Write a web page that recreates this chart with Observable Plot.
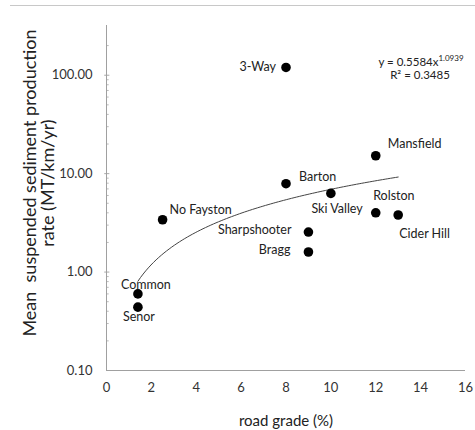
<!DOCTYPE html>
<html>
<head>
<meta charset="utf-8">
<script src="https://cdn.jsdelivr.net/npm/d3@7"></script>
<script src="https://cdn.jsdelivr.net/npm/@observablehq/plot@0.6"></script>
<style>
  html, body { margin: 0; padding: 0; background: #fff; }
  #wrap { position: relative; width: 475px; height: 430px; }
  #topline { position: absolute; left: 10px; right: 0; top: 5px; height: 0; border-top: 1px solid #c8c8c8; }
  svg { font-family: Lato, "Open Sans", sans-serif; }
</style>
</head>
<body>
<div id="wrap"><div id="topline"></div></div>
<script>
const sites = ["3-Way", "Mansfield", "Barton", "", "Ski Valley", "Rolston", "No Fayston", "Sharpshooter", "Bragg", "Common", "Senor"];
const grade = [8, 12, 8, 10, 12, 13, 2.5, 9, 9, 1.4, 1.4];
const rate  = [120, 15.2, 7.9, 6.3, 4.0, 3.8, 3.4, 2.55, 1.6, 0.60, 0.44];
const extraLabels = ["Cider Hill"];
const yTicks = [0.1, 1, 10, 100];
const yTickLabels = ["0.10", "1.00", "10.00", "100.00"];
const xTicks = [0, 2, 4, 6, 8, 10, 12, 14, 16];
const fitA = 0.5584, fitB = 1.0939, fitR2 = 0.3485;
const fitRange = [1.4, 13];
const yTitle = ["Mean  suspended sediment production", "rate (MT/km/yr)"];
const xTitle = "road grade (%)";

const pts = sites.map((s, i) => ({name: s, x: grade[i], y: rate[i]}));
const fit = d3.range(0, 101).map(i => {
  const x = fitRange[0] + (fitRange[1] - fitRange[0]) * i / 100;
  return {x, y: fitA * Math.pow(x, fitB)};
});

// label placement (style, in code)
const place = {
  "3-Way":        {dx: -10, dy: 0,  anchor: "end"},
  "Mansfield":    {dx: 12,  dy: -12, anchor: "start"},
  "Barton":       {dx: 13,  dy: -7, anchor: "start"},
  "Ski Valley":   {dx: -13, dy: -4, anchor: "end"},
  "Rolston":      {dx: -25, dy: -19, anchor: "start"},
  "No Fayston":   {dx: 7,   dy: -10, anchor: "start"},
  "Sharpshooter": {dx: -17, dy: -2, anchor: "end"},
  "Bragg":        {dx: -18, dy: -2, anchor: "end"},
  "Common":       {dx: -17, dy: -9, anchor: "start"},
  "Senor":        {dx: -15, dy: 10, anchor: "start"}
};
const cider = {name: extraLabels[0], x: grade[5], y: rate[5]};

const minor = [];
for (let d = 0.1; d < 300; d *= 10) for (let k = 2; k <= 9; k++) if (d * k < 300) minor.push(d * k);

const labelMarks = pts.filter(p => place[p.name]).map(p => {
  const o = place[p.name];
  return Plot.text([p], {x: "x", y: "y", text: "name", dx: o.dx, dy: o.dy, textAnchor: o.anchor, fontSize: 12.5, fill: "#222"});
});

const chart = Plot.plot({
  width: 475,
  height: 430,
  marginLeft: 106,
  marginRight: 10,
  marginTop: 25,
  marginBottom: 60,
  style: {fontFamily: "Lato, 'Open Sans', sans-serif", background: "transparent"},
  x: {domain: [0, 16], label: null},
  y: {type: "log", domain: [0.1, 320], label: null},
  marks: [
    Plot.axisX({ticks: xTicks, tickSize: 0, tickPadding: 12, fontSize: 13, fill: "#333", label: null}),
    Plot.axisY({ticks: yTicks, tickFormat: d => yTickLabels[yTicks.indexOf(d)], tickSize: 0, tickPadding: 14, fontSize: 13, fill: "#333", label: null}),
    Plot.ruleY(minor, {x1: 0, x2: 0.12, stroke: "#bbb", strokeWidth: 1}),
    Plot.ruleY(yTicks.slice(1), {x1: -0.08, x2: 0.15, stroke: "#aaa", strokeWidth: 1}),
    Plot.ruleX([0], {stroke: "#a0a0a0", strokeWidth: 1}),
    Plot.ruleY([0.1], {stroke: "#a0a0a0", strokeWidth: 1}),
    Plot.line(fit, {x: "x", y: "y", stroke: "#444", strokeWidth: 1}),
    Plot.dot(pts, {x: "x", y: "y", r: 4.8, fill: "#000"}),
    ...labelMarks,
    Plot.text([cider], {x: "x", y: "y", text: "name", dx: 1, dy: 19, textAnchor: "start", fontSize: 12.5, fill: "#222"}),
    Plot.text([xTitle], {frameAnchor: "bottom", dy: 55, fontSize: 15, fill: "#222"})
  ]
});
document.getElementById("wrap").appendChild(chart);

const svg = d3.select(chart);
// regression equation annotation
const eq = svg.append("text")
  .attr("x", 421).attr("y", 66)
  .attr("text-anchor", "middle")
  .attr("font-size", 11.5).attr("fill", "#222");
eq.append("tspan").text("y = " + fitA + "x");
eq.append("tspan").attr("dy", -5).attr("font-size", 8).text(String(fitB));
svg.append("text")
  .attr("x", 420).attr("y", 79)
  .attr("text-anchor", "middle")
  .attr("font-size", 11.5).attr("fill", "#222")
  .text("R² = " + fitR2);

// rotated two-line y-axis title
const yt = svg.append("text")
  .attr("transform", "translate(30,183) rotate(-90)")
  .attr("text-anchor", "middle")
  .attr("font-size", 18).attr("fill", "#222");
yt.append("tspan").attr("x", 0).attr("dy", "0.35em").text(yTitle[0]);
yt.append("tspan").attr("x", 0).attr("dy", 17.5).text(yTitle[1]);
</script>
</body>
</html>
